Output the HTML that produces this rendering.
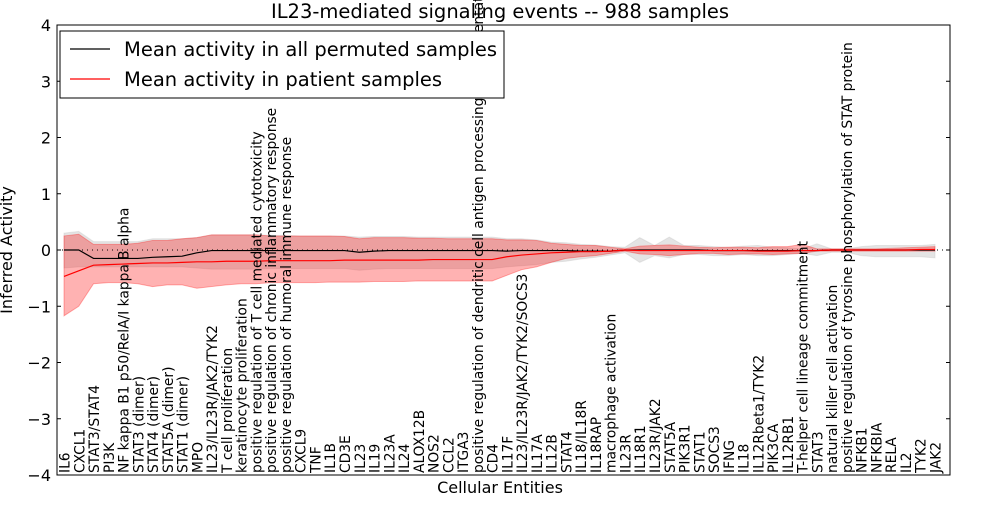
<!DOCTYPE html>
<html><head><meta charset="utf-8"><style>
body{margin:0;background:#fff;width:1000px;height:500px;overflow:hidden}
svg text{font-family:"DejaVu Sans","Liberation Sans",sans-serif}
</style></head><body>
<svg id="c" width="1000" height="500" xmlns="http://www.w3.org/2000/svg"></svg>
<script>
const categories=["IL6","CXCL1","STAT3/STAT4","PI3K","NF kappa B1 p50/RelA/I kappa B alpha","STAT3 (dimer)","STAT4 (dimer)","STAT5A (dimer)","STAT1 (dimer)","MPO","IL23/IL23R/JAK2/TYK2","T cell proliferation","keratinocyte proliferation","positive regulation of T cell mediated cytotoxicity","positive regulation of chronic inflammatory response","positive regulation of humoral immune response","CXCL9","TNF","IL1B","CD3E","IL23","IL19","IL23A","IL24","ALOX12B","NOS2","CCL2","ITGA3","positive regulation of dendritic cell antigen processing and presentation","CD4","IL17F","IL23/IL23R/JAK2/TYK2/SOCS3","IL17A","IL12B","STAT4","IL18/IL18R","IL18RAP","macrophage activation","IL23R","IL18R1","IL23R/JAK2","STAT5A","PIK3R1","STAT1","SOCS3","IFNG","IL18","IL12Rbeta1/TYK2","PIK3CA","IL12RB1","T-helper cell lineage commitment","STAT3","natural killer cell activation","positive regulation of tyrosine phosphorylation of STAT protein","NFKB1","NFKBIA","RELA","IL2","TYK2","JAK2"];
const permMean=[0,0,-0.15,-0.15,-0.15,-0.15,-0.13,-0.12,-0.11,-0.05,-0.01,-0.01,-0.01,-0.01,-0.01,-0.01,-0.01,-0.01,-0.01,-0.01,-0.04,-0.02,-0.01,-0.01,-0.01,-0.01,-0.01,-0.01,-0.01,-0.01,-0.02,-0.01,-0.01,-0.01,-0.01,-0.02,-0.02,-0.02,0,0,0,0,0,0,-0.01,-0.01,-0.01,-0.01,-0.01,-0.01,-0.01,-0.01,0,0,0,0,0,0,0,0];
const permUpper=[0.3,0.33,0.15,0.15,0.15,0.15,0.2,0.2,0.2,0.22,0.27,0.27,0.27,0.27,0.26,0.26,0.25,0.25,0.25,0.25,0.23,0.24,0.24,0.24,0.23,0.23,0.23,0.23,0.23,0.23,0.2,0.2,0.18,0.14,0.13,0.1,0.09,0.06,0.05,0.22,0.08,0.23,0.08,0.08,0.06,0.05,0.07,0.08,0.05,0.04,0.02,0.11,0.02,0.02,0.06,0.08,0.08,0.08,0.08,0.1];
const permLower=[-0.32,-0.3,-0.3,-0.3,-0.3,-0.3,-0.3,-0.3,-0.3,-0.32,-0.34,-0.34,-0.34,-0.34,-0.33,-0.33,-0.33,-0.33,-0.33,-0.33,-0.36,-0.34,-0.33,-0.33,-0.33,-0.33,-0.33,-0.33,-0.33,-0.33,-0.3,-0.28,-0.26,-0.22,-0.2,-0.16,-0.13,-0.09,-0.05,-0.22,-0.1,-0.14,-0.08,-0.08,-0.1,-0.1,-0.08,-0.1,-0.1,-0.08,-0.06,-0.1,-0.04,-0.04,-0.1,-0.12,-0.12,-0.12,-0.12,-0.14];
const patMean=[-0.47,-0.37,-0.27,-0.26,-0.25,-0.24,-0.23,-0.23,-0.22,-0.21,-0.21,-0.2,-0.2,-0.2,-0.19,-0.19,-0.19,-0.19,-0.19,-0.18,-0.18,-0.18,-0.18,-0.18,-0.18,-0.17,-0.17,-0.17,-0.17,-0.17,-0.12,-0.09,-0.07,-0.05,-0.04,-0.03,-0.03,-0.02,0,-0.01,-0.01,-0.01,-0.01,-0.01,-0.01,-0.01,-0.01,-0.02,-0.02,-0.02,-0.01,-0.01,0,0,0,0,0,0,0.01,0.01];
const patUpper=[0.25,0.28,0.1,0.1,0.1,0.12,0.17,0.17,0.2,0.22,0.27,0.27,0.27,0.27,0.25,0.25,0.25,0.25,0.25,0.24,0.2,0.22,0.22,0.22,0.21,0.21,0.2,0.2,0.2,0.2,0.18,0.18,0.17,0.12,0.1,0.08,0.08,0.05,0.02,0.07,0.08,0.09,0.07,0.05,0.04,0.05,0.05,0.04,0.06,0.06,0.1,0.02,0.02,0.02,0.02,0.02,0.03,0.04,0.05,0.06];
const patLower=[-1.17,-1.0,-0.6,-0.58,-0.58,-0.6,-0.65,-0.62,-0.62,-0.68,-0.65,-0.62,-0.6,-0.6,-0.58,-0.58,-0.58,-0.58,-0.57,-0.57,-0.57,-0.56,-0.56,-0.56,-0.55,-0.55,-0.55,-0.55,-0.55,-0.55,-0.45,-0.35,-0.3,-0.22,-0.15,-0.12,-0.1,-0.06,-0.02,-0.07,-0.08,-0.1,-0.08,-0.06,-0.06,-0.08,-0.07,-0.07,-0.08,-0.07,-0.06,-0.02,-0.02,-0.02,-0.02,-0.02,-0.02,-0.02,-0.02,-0.02];
const yTicks=[4,3,2,1,0,-1,-2,-3,-4];

const svg=document.getElementById('c');
const NS='http://www.w3.org/2000/svg';
const L=57,R=950,T=25,B=475;
function xs(i){return 64+i*(935-64)/(categories.length-1);}
function ys(v){return T+(4-v)/8*(B-T);}
function mk(tag,attrs,name){const e=document.createElementNS(NS,tag);for(const k in attrs)e.setAttribute(k,attrs[k]);


svg.appendChild(e);return e;}
function band(up,lo,fill,op,name){let d='M'+up.map((v,i)=>xs(i)+','+ys(v)).join('L');
for(let i=lo.length-1;i>=0;i--)d+='L'+xs(i)+','+ys(lo[i]);mk('path',{d:d+'Z',fill:fill,'fill-opacity':op,stroke:fill,'stroke-opacity':0.3},name);}
function line(arr,col,name){const d='M'+arr.map((v,i)=>xs(i)+','+ys(v)).join('L');return mk('path',{d:d,fill:'none',stroke:col,'stroke-width':1.2},name);}
mk('rect',{x:L,y:T,width:R-L,height:B-T,fill:'#fff'},'plot-background');
band(permUpper,permLower,'#bbbbbb',0.4,'permuted-band');
band(patUpper,patLower,'#ff0000',0.3,'patient-band');
mk('line',{x1:L,x2:R,y1:ys(0),y2:ys(0),stroke:'#000','stroke-dasharray':'1,4'},'zero-line');
line(permMean,'#000','permuted-mean-line');
line(patMean,'#ff0000','patient-mean-line');
categories.forEach((c,i)=>{const t=mk('text',{x:0,y:0,transform:`translate(${xs(i)+5.5},473) rotate(-90)`,'font-size':13.8},'x-tick-label');t.textContent=c;});
yTicks.forEach(v=>{mk('line',{x1:L,x2:L+4,y1:ys(v),y2:ys(v),stroke:'#000'},'y-tick');mk('line',{x1:R,x2:R-4,y1:ys(v),y2:ys(v),stroke:'#000'},'y-tick-right');
const t=mk('text',{x:L-6,y:ys(v)+6,'text-anchor':'end','font-size':16},'y-tick-label');t.textContent=(v<0?'\u2212'+(-v):v);});
mk('rect',{x:L,y:T,width:R-L,height:B-T,fill:'none',stroke:'#000'},'plot-frame');
let t=mk('text',{x:500,y:18,'text-anchor':'middle','font-size':19.5},'chart-title');t.textContent='IL23-mediated signaling events -- 988 samples';
t=mk('text',{x:500,y:493,'text-anchor':'middle','font-size':16},'x-axis-title');t.textContent='Cellular Entities';
t=mk('text',{x:0,y:0,transform:'translate(12,250) rotate(-90)','text-anchor':'middle','font-size':16},'y-axis-title');t.textContent='Inferred Activity';
mk('rect',{x:60,y:31,width:444,height:67,fill:'#fff',stroke:'#000'},'legend');
mk('line',{x1:70,x2:110,y1:49,y2:49,stroke:'#000','stroke-width':1.2},'legend-swatch-permuted');
t=mk('text',{x:124,y:56,'font-size':19.5},'legend-entry-permuted');t.textContent='Mean activity in all permuted samples';
mk('line',{x1:70,x2:110,y1:79,y2:79,stroke:'#f00','stroke-width':1.2},'legend-swatch-patient');
t=mk('text',{x:124,y:86,'font-size':19.5},'legend-entry-patient');t.textContent='Mean activity in patient samples';
</script></body></html>
